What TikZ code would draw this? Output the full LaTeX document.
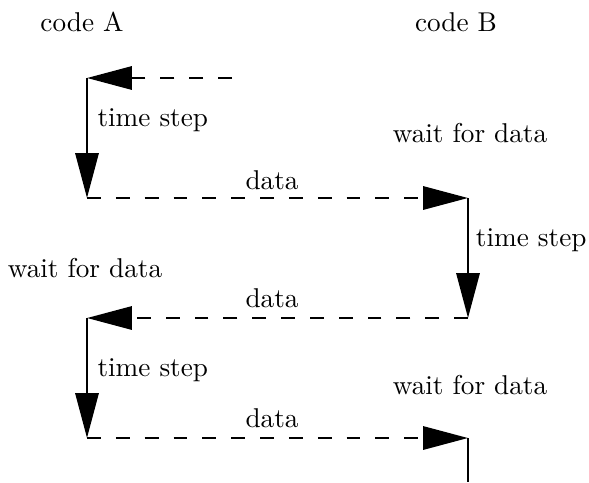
\documentclass[tikz,border=0pt]{standalone}
\usepackage{amsmath}
\usepackage{tikz}
\usetikzlibrary{arrows.meta}

\tikzset{
  msg/.style={line width=1, dash pattern=on 5.1pt off 5.5pt,
    -{Triangle[length=16.5pt,width=8.5pt]}},
  tstep/.style={line width=1, -{Triangle[length=16.5pt,width=8.5pt]}},
  lbl/.style={inner sep=0pt}
}

\begin{document}
\begin{tikzpicture}[x=.3675pt,y=-.3675pt]
\useasboundingbox (0,0) rectangle (589,482);

% corners of the exchange
\coordinate (a0) at (232,78);
\coordinate (a1) at (87,78);
\coordinate (a2) at (87,198);
\coordinate (b2) at (468,198);
\coordinate (b3) at (468,318);
\coordinate (a3) at (87,318);
\coordinate (a4) at (87,438);
\coordinate (b4) at (468,438);
\coordinate (b5) at (468,482);

\node[lbl] (codeA) at (82,22) {code A};
\node[lbl] (codeB) at (456,22) {code B};

\draw[msg]
  (a0) to (a1);
\draw[tstep]
  (a1) to (a2);
\draw[msg]
  (a2) to (b2);
\draw[tstep]
  (b2) to (b3);
\draw[msg]
  (b3) to (a3);
\draw[tstep]
  (a3) to (a4);
\draw[msg]
  (a4) to (b4);
\draw[line width=1]
  (b4) to (b5);

\node[lbl, anchor=west] (stepA1) at (97,120) {time step};
\node[lbl, anchor=east] (stepB) at (587,240) {time step};
\node[lbl, anchor=west] (stepA2) at (97,370) {time step};

\node[lbl] (waitB1) at (470,133) {wait for data};
\node[lbl] (waitA) at (85,268) {wait for data};
\node[lbl] (waitB2) at (470,385) {wait for data};

\node[lbl] (data1) at (272,180) {data};
\node[lbl] (data2) at (272,298) {data};
\node[lbl] (data3) at (272,418) {data};
\end{tikzpicture}
\end{document}
